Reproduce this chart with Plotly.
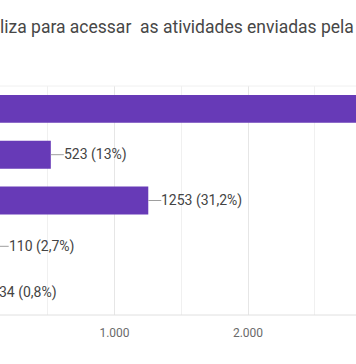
import plotly.graph_objects as go

categories = ["Opção A", "Opção B", "Opção C", "Opção D", "Opção E"]
values = [3206, 523, 1253, 110, 34]
percents = ["79,8%", "13%", "31,2%", "2,7%", "0,8%"]
title_text = "liza para acessar  as atividades enviadas pela"
tick_vals = [0, 1000, 2000, 3000]
tick_text = ["0", "1.000", "2.000", "3.000"]

W_EXTRA = 19  # part of the chart that lies left of the visible crop

fig = go.Figure()
fig.add_trace(go.Bar(
    y=categories, x=values, orientation="h",
    marker=dict(color="#673ab7", line=dict(width=0)),
    hoverinfo="skip",
))

for c, v, p in zip(categories, values, percents):
    fig.add_annotation(
        x=v, y=c, xref="x", yref="y",
        text=f"{v} ({p})",
        showarrow=True, arrowhead=0, arrowwidth=1, arrowcolor="#9e9e9e",
        ax=13, ay=0, xanchor="left", yanchor="middle",
        borderpad=0, borderwidth=0,
        font=dict(family="Roboto", size=14, color="#444444"),
    )

fig.add_annotation(
    text=title_text, xref="paper", yref="paper", x=0, y=1,
    xanchor="left", yanchor="bottom", yshift=47, xshift=W_EXTRA - 2, showarrow=False,
    font=dict(family="Roboto", size=17.5, color="#474747"),
)

fig.update_layout(
    width=356 + W_EXTRA, height=364,
    margin=dict(l=0, r=0, t=86, b=49),
    paper_bgcolor="white", plot_bgcolor="white",
    showlegend=False,
    bargap=0.39,
    xaxis=dict(
        range=[0, (356 + W_EXTRA) / 0.1335],
        tickvals=tick_vals, ticktext=tick_text,
        showgrid=True, gridcolor="#e6e6e6", gridwidth=1,
        minor=dict(dtick=500, showgrid=True, gridcolor="#f0f0f0"),
        zeroline=False, showline=False, ticks="",
        ticklabelstandoff=9,
        tickfont=dict(family="Roboto", size=12, color="#6a6a6a"),
        fixedrange=True,
    ),
    yaxis=dict(
        autorange="reversed", showticklabels=False, showgrid=False,
        zeroline=False, showline=False, ticks="", fixedrange=True,
    ),
    shapes=[
        dict(type="line", xref="paper", yref="paper", x0=0, x1=1, y0=0, y1=0,
             line=dict(color="#e0e0e0", width=1)),
        dict(type="line", xref="paper", yref="paper", x0=0, x1=1, y0=1, y1=1,
             line=dict(color="#f0f0f0", width=1)),
    ],
)

fig.write_html(
    "out.html",
    config={"displayModeBar": False, "staticPlot": True},
    post_script=(
        "document.body.style.margin='0';"
        "document.body.style.overflow='hidden';"
        "var d=document.getElementById('{plot_id}');"
        "d.style.marginLeft='-%dpx';" % W_EXTRA
    ),
)
